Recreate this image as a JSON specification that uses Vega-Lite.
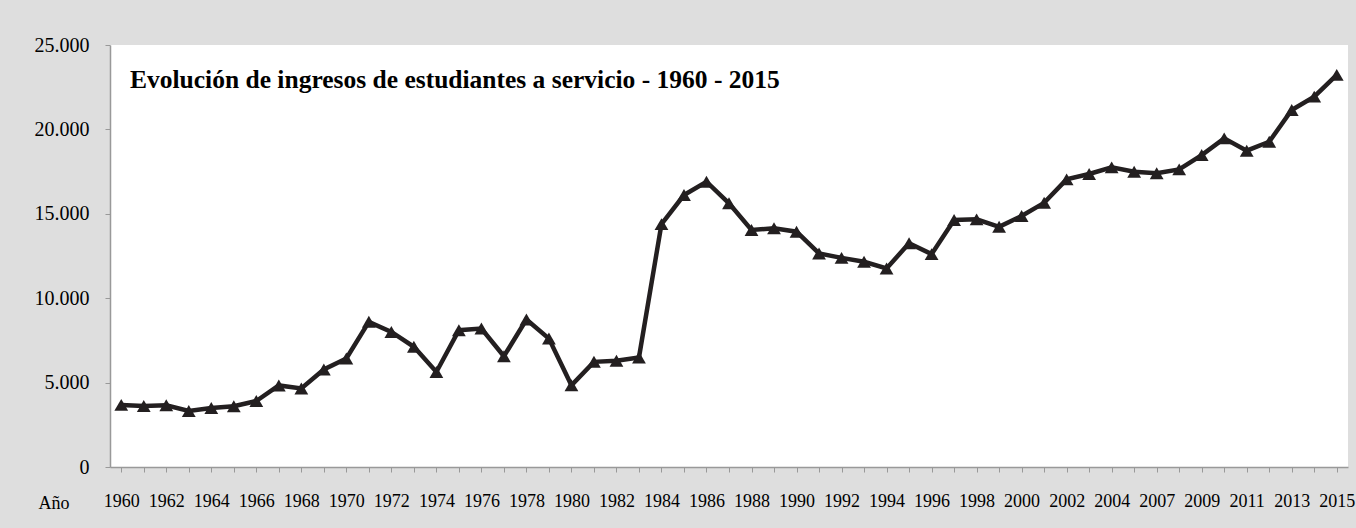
{
  "$schema": "https://vega.github.io/schema/vega-lite/v6.json",
  "width": 1238,
  "height": 422,
  "autosize": {"type": "none"},
  "padding": {"left": 110, "top": 45, "right": 8, "bottom": 61},
  "background": "#dedede",
  "title": {
    "text": "Evolución de ingresos de estudiantes a servicio - 1960 - 2015",
    "anchor": "start",
    "frame": "group",
    "font": "Liberation Serif",
    "fontSize": 25.5,
    "fontWeight": "bold",
    "color": "#000000",
    "baseline": "alphabetic",
    "offset": 0,
    "dx": 20,
    "dy": 78
  },
  "data": {
    "values": [
      {"anio": "1960", "ingresos": 3680},
      {"anio": "1961", "ingresos": 3610},
      {"anio": "1962", "ingresos": 3660},
      {"anio": "1963", "ingresos": 3320},
      {"anio": "1964", "ingresos": 3500},
      {"anio": "1965", "ingresos": 3600},
      {"anio": "1966", "ingresos": 3910},
      {"anio": "1967", "ingresos": 4830},
      {"anio": "1968", "ingresos": 4650},
      {"anio": "1969", "ingresos": 5775},
      {"anio": "1970", "ingresos": 6430},
      {"anio": "1971", "ingresos": 8600},
      {"anio": "1972", "ingresos": 8000},
      {"anio": "1973", "ingresos": 7120},
      {"anio": "1974", "ingresos": 5630},
      {"anio": "1975", "ingresos": 8100},
      {"anio": "1976", "ingresos": 8200},
      {"anio": "1977", "ingresos": 6560},
      {"anio": "1978", "ingresos": 8740},
      {"anio": "1979", "ingresos": 7610},
      {"anio": "1980", "ingresos": 4840},
      {"anio": "1981", "ingresos": 6230},
      {"anio": "1982", "ingresos": 6290},
      {"anio": "1983", "ingresos": 6490},
      {"anio": "1984", "ingresos": 14390},
      {"anio": "1985", "ingresos": 16110},
      {"anio": "1986", "ingresos": 16900},
      {"anio": "1987", "ingresos": 15620},
      {"anio": "1988", "ingresos": 14040},
      {"anio": "1989", "ingresos": 14140},
      {"anio": "1990", "ingresos": 13940},
      {"anio": "1991", "ingresos": 12650},
      {"anio": "1992", "ingresos": 12390},
      {"anio": "1993", "ingresos": 12160},
      {"anio": "1994", "ingresos": 11765},
      {"anio": "1995", "ingresos": 13250},
      {"anio": "1996", "ingresos": 12610},
      {"anio": "1997", "ingresos": 14630},
      {"anio": "1998", "ingresos": 14670},
      {"anio": "1999", "ingresos": 14230},
      {"anio": "2000", "ingresos": 14870},
      {"anio": "2001", "ingresos": 15650},
      {"anio": "2002", "ingresos": 17040},
      {"anio": "2003", "ingresos": 17360},
      {"anio": "2004", "ingresos": 17750},
      {"anio": "2006", "ingresos": 17490},
      {"anio": "2007", "ingresos": 17400},
      {"anio": "2008", "ingresos": 17630},
      {"anio": "2009", "ingresos": 18480},
      {"anio": "2010", "ingresos": 19470},
      {"anio": "2011", "ingresos": 18740},
      {"anio": "2012", "ingresos": 19270},
      {"anio": "2013", "ingresos": 21150},
      {"anio": "2014", "ingresos": 21940},
      {"anio": "2015", "ingresos": 23230}
    ]
  },
  "encoding": {
    "x": {
      "field": "anio",
      "type": "ordinal",
      "sort": null,
      "scale": {"type": "point", "padding": 0.5},
      "axis": {
        "title": "Año",
        "titleFont": "Liberation Serif",
        "titleFontSize": 18,
        "titleFontWeight": "normal",
        "titleColor": "#000000",
        "titleAlign": "left",
        "titleAnchor": null,
        "titleBaseline": "alphabetic",
        "titleX": -72,
        "titleY": 41,
        "labelFont": "Liberation Serif",
        "labelFontSize": 18,
        "labelColor": "#000000",
        "labelAngle": 0,
        "labelPadding": 20,
        "labelOverlap": false,
        "labelExpr": "(toNumber(datum.value) <= 2004 ? toNumber(datum.value) % 2 == 0 : toNumber(datum.value) % 2 == 1) ? datum.value : ''",
        "tickColor": "#999999",
        "tickSize": 5,
        "domainColor": "#999999",
        "domainWidth": 1.5,
        "grid": false
      }
    },
    "y": {
      "field": "ingresos",
      "type": "quantitative",
      "scale": {"domain": [0, 25000], "nice": false, "zero": true},
      "axis": {
        "title": null,
        "values": [0, 5000, 10000, 15000, 20000, 25000],
        "labelExpr": "replace(format(datum.value, ',d'), ',', '.')",
        "labelFont": "Liberation Serif",
        "labelFontSize": 20,
        "labelColor": "#000000",
        "labelPadding": 16,
        "tickColor": "#999999",
        "tickSize": 5,
        "domainColor": "#999999",
        "domainWidth": 1.5,
        "grid": false
      }
    }
  },
  "layer": [
    {
      "mark": {"type": "line", "color": "#231f20", "strokeWidth": 4.5, "strokeJoin": "miter"}
    },
    {
      "mark": {"type": "point", "shape": "triangle-up", "filled": true, "color": "#231f20", "size": 190, "opacity": 1}
    }
  ],
  "config": {
    "view": {"fill": "#ffffff", "stroke": null}
  }
}
